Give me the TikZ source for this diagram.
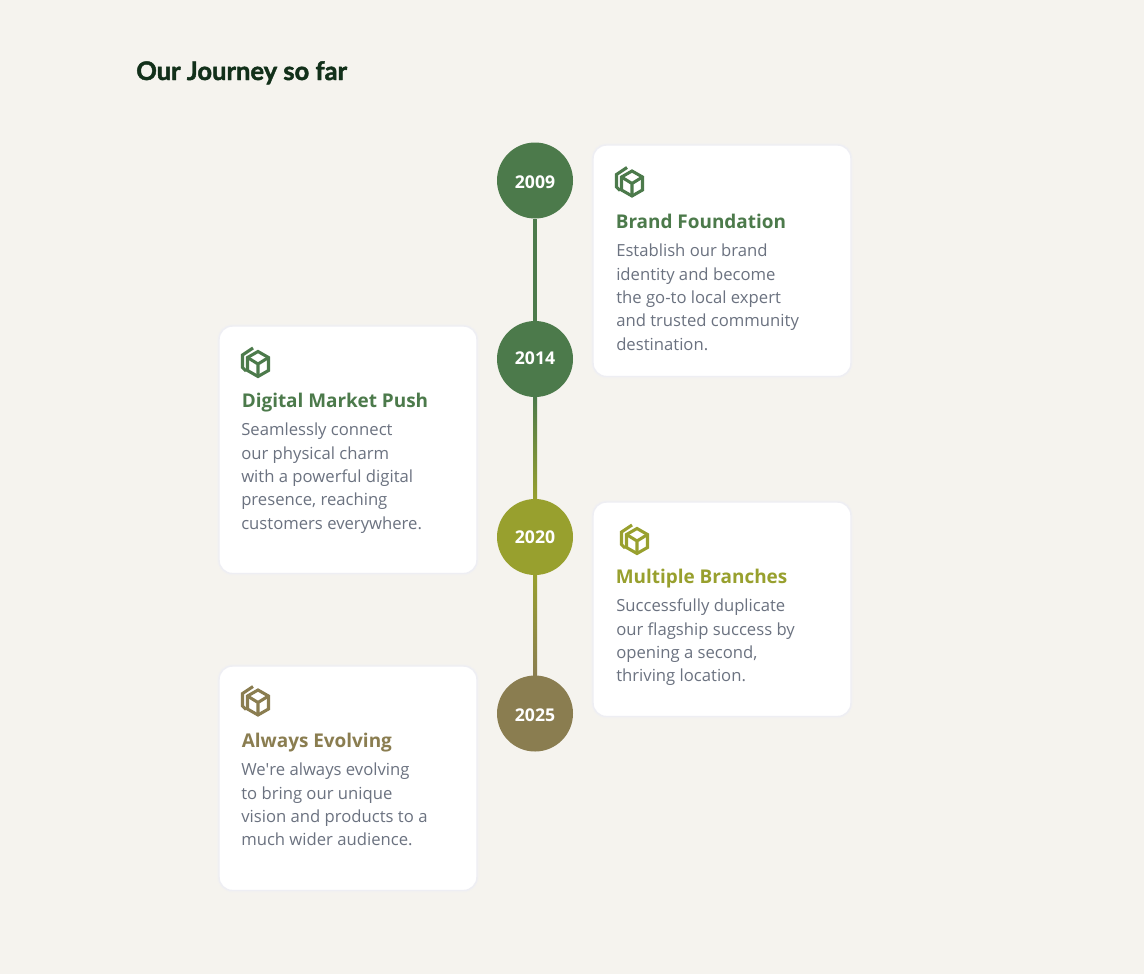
\documentclass[tikz,border=0pt]{standalone}
\usepackage{fontspec}
\setmainfont{Open Sans}
\newfontfamily\straightq{Open Sans}
\newfontfamily\titlefont{Lato}[BoldFeatures={FakeBold=1.8}]
\usetikzlibrary{calc}
\definecolor{bgc}{HTML}{F5F3EE}
\definecolor{greenc}{HTML}{4C7A4B}
\definecolor{olivec}{HTML}{98A02E}
\definecolor{brownc}{HTML}{8A7D50}
\definecolor{titlec}{HTML}{12301A}
\definecolor{bodyc}{HTML}{6B7280}
\definecolor{edgec}{HTML}{EEEEF3}
\tikzset{
  x=0.75pt,y=-0.75pt,
  cardbox/.style={draw=edgec,line width=1.1pt,fill=white,rounded corners=10pt},
  cardglow/.style={draw=black!5,line width=3pt,rounded corners=11pt,opacity=.5},
  yearnode/.style={circle,minimum size=57pt,inner sep=0pt},
  yeartext/.style={inner sep=0pt,text=white,font=\fontsize{13.2}{15}\selectfont\bfseries},
  headnode/.style={anchor=base west,inner sep=0pt,font=\fontsize{14.2}{18}\selectfont\bfseries},
  bodynode/.style={anchor=north west,inner sep=0pt,align=left,text=bodyc,font=\fontsize{12.5}{17.55}\selectfont},
  linkline/.style={line width=3pt},
}
\newcommand{\firstl}{\rule{0pt}{12pt}}
\newcommand{\boxicon}[3]{%
  \begin{scope}[shift={(#1,#2)},draw=#3,line width=2.3pt,line join=miter]
    \draw (0,-12.5) -- (10.5,-6.5) -- (10.5,6.5) -- (0,12.5) -- (-10.5,6.5) -- (-10.5,-6.5) -- cycle;
    \draw (-10.5,-6.5) -- (0,0) -- (10.5,-6.5) (0,0) -- (0,12.5);
    \draw (-5,-16) -- (-15.5,-9) -- (-15.5,3.5) -- (-12,7);
  \end{scope}}
\begin{document}
\begin{tikzpicture}
\useasboundingbox (0,0) rectangle (1144,974);
\fill[bgc] (0,0) rectangle (1144,974);
\node[anchor=base west,inner sep=0pt,text=titlec,font=\titlefont\fontsize{19.15}{22}\selectfont\bfseries] (title) at (136,80) {Our Journey so far};

\coordinate (p2009) at (535,180.5);
\coordinate (p2014) at (535,359);
\coordinate (p2020) at (535,537);
\coordinate (p2025) at (535,713.5);
\path (p2009) node[yearnode] (y2009) {} (p2014) node[yearnode] (y2014) {} (p2020) node[yearnode] (y2020) {} (p2025) node[yearnode] (y2025) {};

\draw[linkline,greenc] (y2009) -- (y2014);
\draw[linkline,greenc!50!olivec] (y2014) -- (y2020);
\draw[linkline,olivec!50!brownc] (y2020) -- (y2025);
\shade[top color=greenc,bottom color=olivec] ($(y2014.south)+(-2,-1)$) rectangle ($(y2020.north)+(2,1)$);
\shade[top color=olivec,bottom color=brownc] ($(y2020.south)+(-2,-1)$) rectangle ($(y2025.north)+(2,1)$);
\node[yearnode,fill=greenc] (c2009) at (p2009) {};
\node[yearnode,fill=greenc] (c2014) at (p2014) {};
\node[yearnode,fill=olivec] (c2020) at (p2020) {};
\node[yearnode,fill=brownc] (c2025) at (p2025) {};
\node[yeartext] (t2009) at (535,182) {2009};
\node[yeartext] (t2014) at (535,358.5) {2014};
\node[yeartext] (t2020) at (535,537.5) {2020};
\node[yeartext] (t2025) at (535,715) {2025};

% cards
\draw[cardglow] (593,145) rectangle (851,376.5);
\draw[cardglow] (219,326) rectangle (477,573.5);
\draw[cardglow] (593,502) rectangle (851,716.5);
\draw[cardglow] (219,666) rectangle (477,890.5);
\draw[cardbox] (593,145) rectangle (851,376.5);
\draw[cardbox] (219,326) rectangle (477,573.5);
\draw[cardbox] (593,502) rectangle (851,716.5);
\draw[cardbox] (219,666) rectangle (477,890.5);

\boxicon{632}{183.5}{greenc}
\node[headnode,text=greenc] (h1) at (615.5,228.5) {Brand Foundation};
\node[bodynode] (b1) at (616,240.5) {\firstl Establish our brand\\identity and become\\the go-to local expert\\and trusted community\\destination.};

\boxicon{258}{364}{greenc}
\node[headnode,text=greenc] (h2) at (241.5,407.5) {Digital Market Push};
\node[bodynode] (b2) at (241,419.5) {\firstl Seamlessly connect\\our physical charm\\with a powerful digital\\presence, reaching\\customers everywhere.};

\boxicon{637}{541}{olivec}
\node[headnode,text=olivec] (h3) at (615.5,583.5) {Multiple Branches};
\node[bodynode] (b3) at (616,595.5) {\firstl Successfully duplicate\\our flagship success by\\opening a second,\\thriving location.};

\boxicon{258}{702.5}{brownc}
\node[headnode,text=brownc] (h4) at (241.5,747.5) {Always Evolving};
\node[bodynode] (b4) at (241,759.5) {\firstl We{\straightq '}re always evolving\\to bring our unique\\vision and products to a\\much wider audience.};
\end{tikzpicture}
\end{document}
